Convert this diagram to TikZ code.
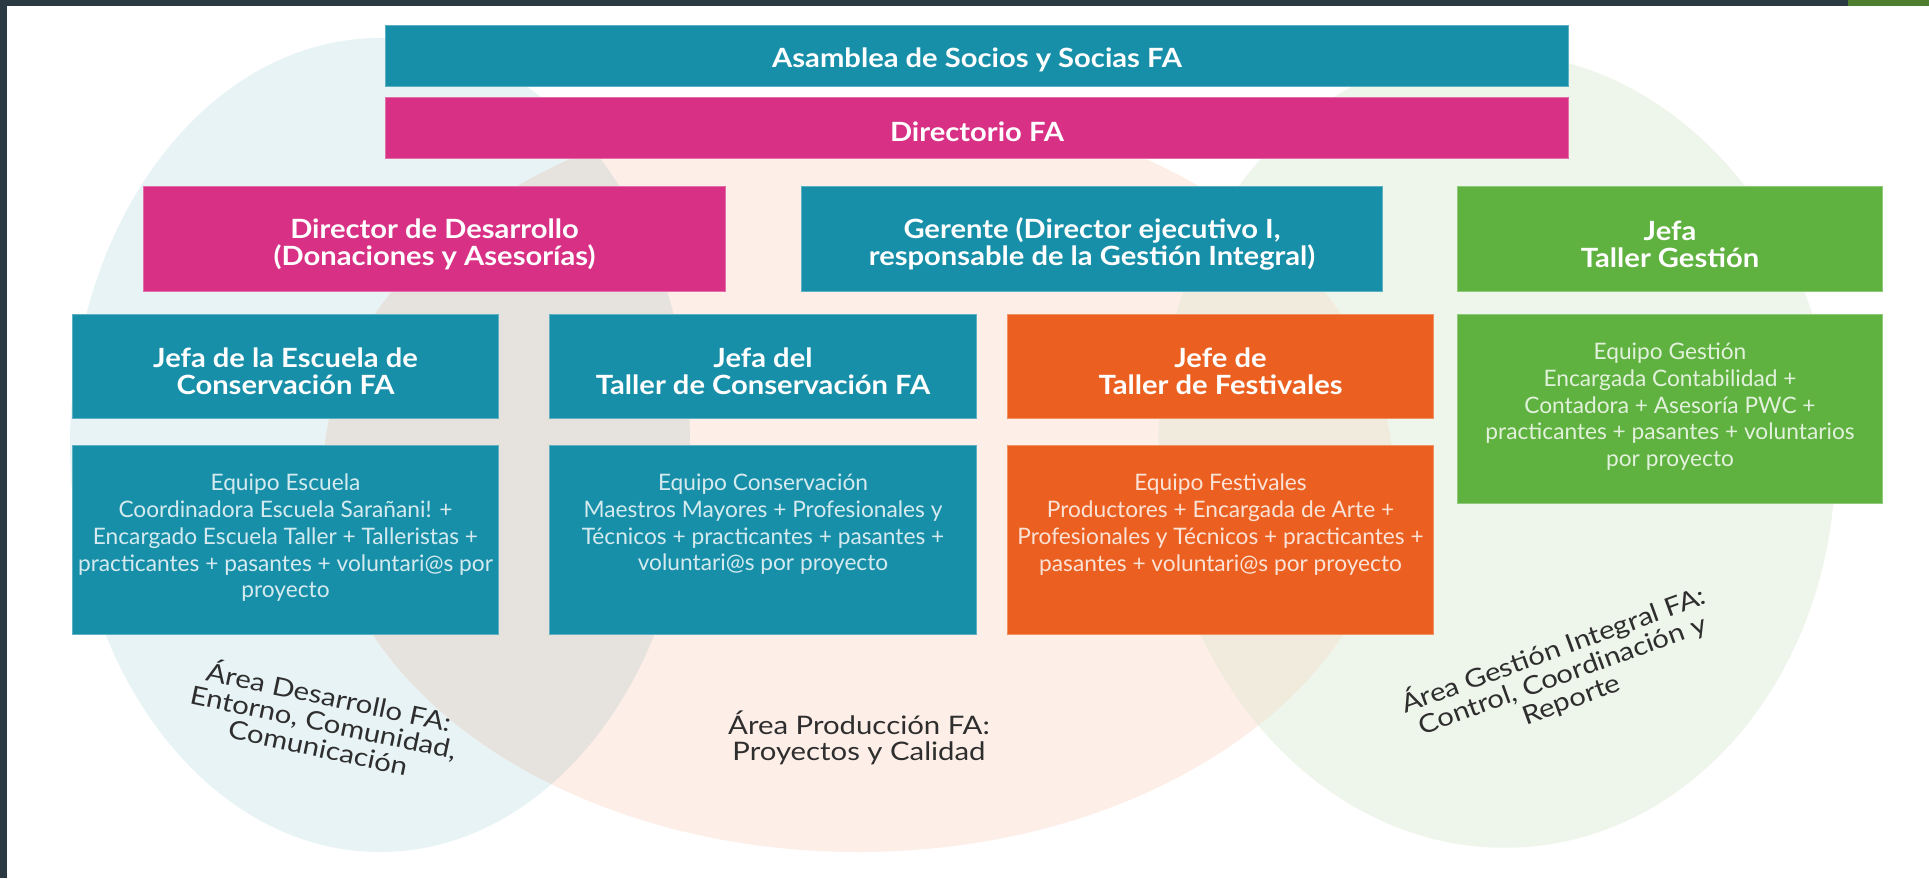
\documentclass[tikz,border=0pt]{standalone}
\usepackage{fontspec}
\setmainfont{Lato}
\newfontfamily\titlefont[FakeStretch=1.1]{Lato}
\newfontfamily\areafont[FakeStretch=1.15]{Lato}
\usetikzlibrary{positioning}

\definecolor{faTeal}{HTML}{178FA8}
\definecolor{faPink}{HTML}{D83084}
\definecolor{faGreen}{HTML}{5FB23F}
\definecolor{faOrange}{HTML}{EB6020}
\definecolor{areaBlue}{HTML}{E8F3F5}
\definecolor{areaPeach}{HTML}{FDEEE7}
\definecolor{areaGreen}{HTML}{EEF5EA}
\definecolor{areaBluePeach}{HTML}{E6E2DE}
\definecolor{areaPeachGreen}{HTML}{F0EBDC}
\definecolor{frameDark}{HTML}{2B3A42}
\definecolor{frameGreen}{HTML}{4F7D2E}
\definecolor{labelInk}{HTML}{2E2E2E}

\def\areaDes{(380,445) ellipse [x radius=310pt, y radius=407pt]}
\def\areaProd{(858,476) ellipse [x radius=535pt, y radius=376pt]}
\def\areaGes{(1497,450) ellipse [x radius=338pt, y radius=398pt]}

\tikzset{
	orgbox/.style={draw=#1!70!white, fill=#1, line width=1pt, anchor=north west, inner sep=0pt},
	titletext/.style={inner sep=0pt, align=center, text=white,
		font=\titlefont\bfseries\fontsize{26.5}{27}\selectfont},
	teamtext/.style={anchor=north, inner sep=0pt, align=center, text=white, text opacity=0.82,
		font=\fontsize{22.7}{26.7}\selectfont},
	arealabel/.style={inner sep=0pt, align=center, text=labelInk, font=\areafont\fontsize{25.5}{26}\selectfont}
}

\begin{document}
\begin{tikzpicture}[x=1pt, y=-1pt]
	\useasboundingbox (0,0) rectangle (1929,878);
	\fill[white] (0,0) rectangle (1929,878);
	
	% areas
	\fill[areaBlue] \areaDes;
	\fill[areaPeach] \areaProd;
	\fill[areaGreen, rotate around={4:(1497,450)}] \areaGes;
	\begin{scope}
		\clip \areaDes;
		\fill[areaBluePeach] \areaProd;
	\end{scope}
	\begin{scope}
		\clip \areaProd;
		\fill[areaPeachGreen, rotate around={4:(1497,450)}] \areaGes;
	\end{scope}
	
	% frame
	\fill[frameDark] (0,0) rectangle (1848,6);
	\fill[frameGreen] (1848,0) rectangle (1929,6);
	\fill[frameDark] (0,0) rectangle (7,878);
	
	% top
	\node[orgbox=faTeal, minimum width=1183, minimum height=61] (asamblea) at (385,25) {};
	\node[orgbox=faPink, minimum width=1183, minimum height=61] (directorio) at (385,97) {};
	
	% directors
	\node[orgbox=faPink, minimum width=582, minimum height=105] (dirDes) at (143,186) {};
	\node[orgbox=faTeal, minimum width=581, minimum height=105] (gerente) at (801,186) {};
	\node[orgbox=faGreen, minimum width=425, minimum height=105] (jefaGes) at (1457,186) {};
	
	% heads
	\node[orgbox=faTeal, minimum width=426, minimum height=104] (jefaEsc) at (72,314) {};
	\node[orgbox=faTeal, minimum width=427, minimum height=104] (jefaCons) at (549,314) {};
	\node[orgbox=faOrange, minimum width=426, minimum height=104] (jefeFest) at (1007,314) {};
	
	% teams
	\node[orgbox=faTeal, minimum width=426, minimum height=189] (eqEsc) at (72,445) {};
	\node[orgbox=faTeal, minimum width=427, minimum height=189] (eqCons) at (549,445) {};
	\node[orgbox=faOrange, minimum width=426, minimum height=189] (eqFest) at (1007,445) {};
	\node[orgbox=faGreen, minimum width=425, minimum height=189] (eqGes) at (1457,314) {};
	
	% titles
	\node[titletext] (asambleaTxt) at ([yshift=-4]asamblea.center) {Asamblea de Socios y Socias FA};
	\node[titletext] (directorioTxt) at ([yshift=-4]directorio.center) {Directorio FA};
	\node[titletext] (dirDesTxt) at ([yshift=-5]dirDes.center) {Director de Desarrollo\\(Donaciones y Asesorías)};
	\node[titletext] (gerenteTxt) at ([yshift=-5]gerente.center) {Gerente (Director ejecutivo I,\\responsable de la Gestión Integral)};
	\node[titletext] (jefaGesTxt) at ([yshift=-5]jefaGes.center) {Jefa\\Taller Gestión};
	\node[titletext] (jefaEscTxt) at ([yshift=-5]jefaEsc.center) {Jefa de la Escuela de\\Conservación FA};
	\node[titletext] (jefaConsTxt) at ([yshift=-5]jefaCons.center) {Jefa del\\Taller de Conservación FA};
	\node[titletext] (jefeFestTxt) at ([yshift=-5]jefeFest.center) {Jefe de\\Taller de Festivales};
	
	\node[teamtext] (eqEscTxt) at ([yshift=-29]eqEsc.north) {Equipo Escuela\\Coordinadora Escuela Sarañani! +\\Encargado Escuela Taller + Talleristas +\\practicantes + pasantes + voluntari@s por\\proyecto};
	\node[teamtext] (eqConsTxt) at ([yshift=-29]eqCons.north) {Equipo Conservación\\Maestros Mayores + Profesionales y\\Técnicos + practicantes + pasantes +\\voluntari@s por proyecto};
	\node[teamtext] (eqFestTxt) at ([yshift=-29]eqFest.north) {Equipo Festivales\\Productores + Encargada de Arte +\\Profesionales y Técnicos + practicantes +\\pasantes + voluntari@s por proyecto};
	\node[teamtext] (eqGesTxt) at ([yshift=-29]eqGes.north) {Equipo Gestión\\Encargada Contabilidad +\\Contadora + Asesoría PWC +\\practicantes + pasantes + voluntarios\\por proyecto};
	
	% area names
	\node[arealabel, rotate=-12] (areaDesTxt) at (324,720) {Área Desarrollo FA:\\Entorno, Comunidad,\\Comunicación};
	\node[arealabel] (areaProdTxt) at (859,738) {Área Producción FA:\\Proyectos y Calidad};
	\node[arealabel, rotate=20] (areaGesTxt) at (1562,674) {Área Gestión Integral FA:\\Control, Coordinación y\\Reporte};
\end{tikzpicture}
\end{document}
